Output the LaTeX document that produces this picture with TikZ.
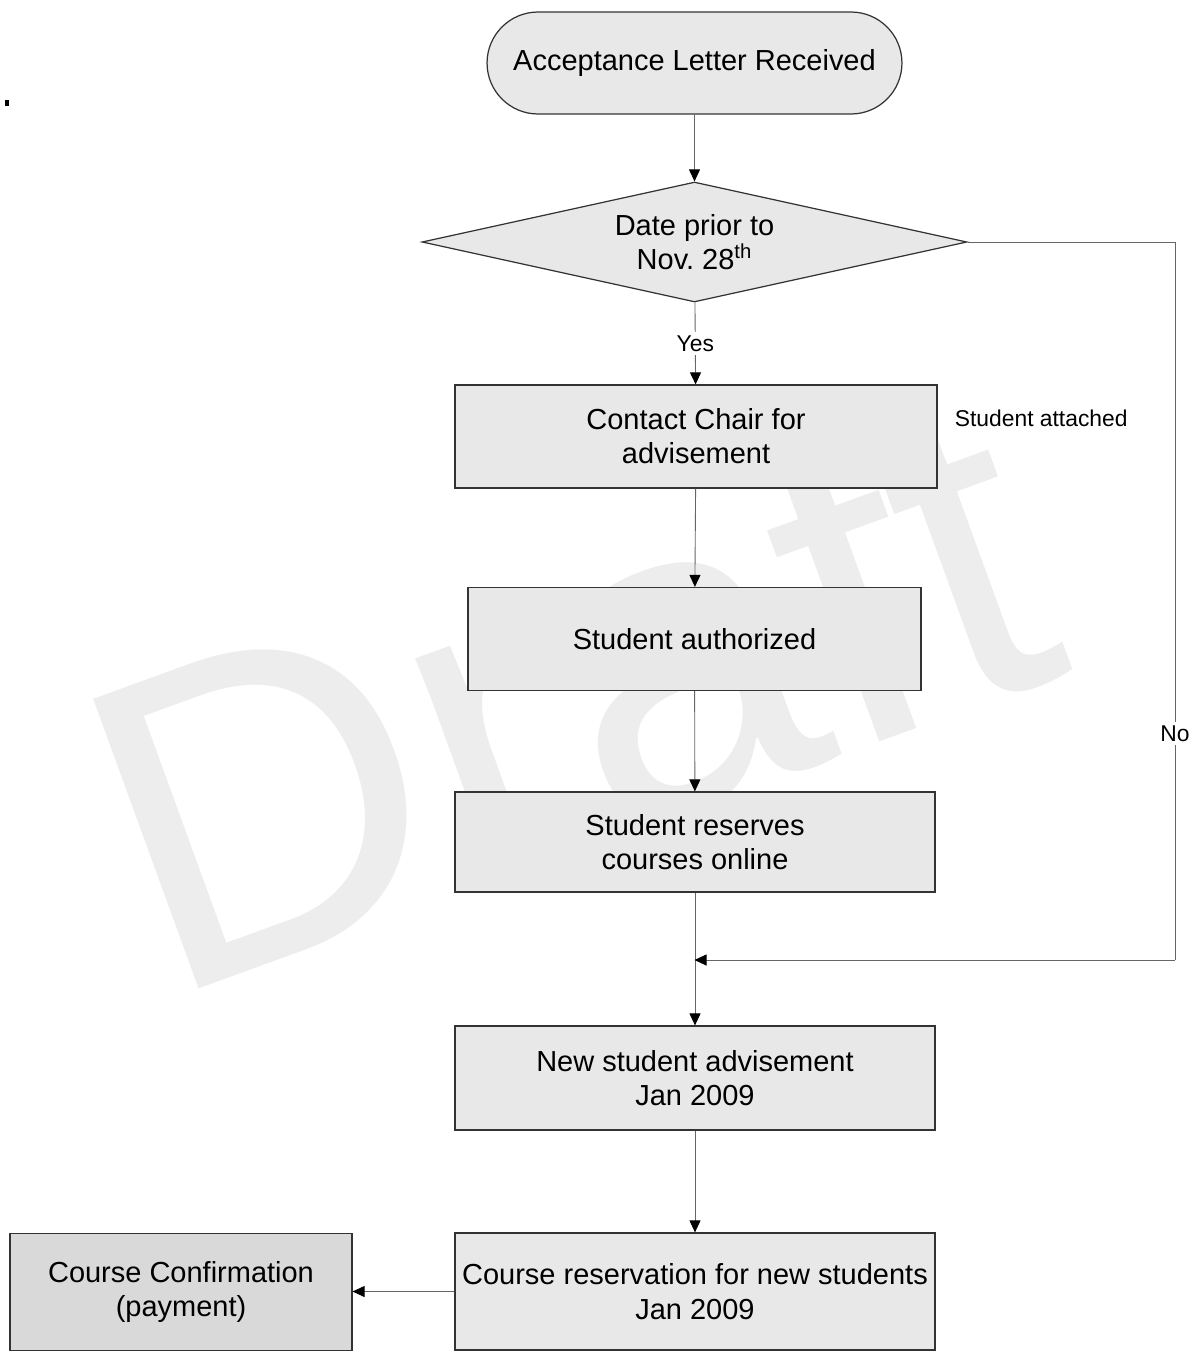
\documentclass[tikz,border=0pt]{standalone}
\usepackage{fontspec}
\setmainfont{Liberation Sans}
\usetikzlibrary{shapes.geometric, shapes.misc, arrows.meta}

\tikzset{
  boxtext/.style={font=\fontsize{16.5}{19.5}\selectfont, align=center, inner sep=0pt},
  stepbox/.style={boxtext, rectangle, draw=black!80, line width=0.7pt, fill=gray!18,
    minimum width=9.6cm, minimum height=2.06cm},
  startbox/.style={boxtext, rounded rectangle, draw=black!80, line width=0.7pt, fill=gray!18,
    minimum width=8.3cm, minimum height=2.04cm},
  decisionbox/.style={boxtext, diamond, aspect=4.5, draw=black!80, line width=0.7pt, fill=gray!18,
    minimum width=10.9cm, minimum height=2.4cm},
  flowline/.style={draw=black!60, line width=0.5pt},
  flowarrow/.style={flowline, -{Triangle[length=0.24cm, width=0.22cm, color=black]}},
  smalllabel/.style={font=\fontsize{13}{15}\selectfont, inner sep=2pt}
}

\begin{document}
\begin{tikzpicture}[x=0.02cm, y=-0.02cm]
\useasboundingbox (0,0) rectangle (1199,1352);

% watermark, behind everything
\node[rotate=20, anchor=base west, inner sep=0pt, font=\fontsize{255}{255}\selectfont,
  text=gray!14] (draft) at (164,1002) {Draft};

% steps
\node[startbox] (accept) at (694.5,63) {Acceptance Letter Received};
\node[decisionbox] (date) at (694.5,242) {Date prior to\\Nov.\ 28\textsuperscript{th}};
\node[stepbox, minimum width=9.64cm] (chair) at (696,436.5) {Contact Chair for\\advisement};
\node[stepbox, minimum width=9.06cm] (authorized) at (694.5,639) {Student authorized};
\node[stepbox, minimum height=2.0cm] (reserves) at (695,842) {Student reserves\\courses online};
\node[stepbox, minimum height=2.08cm] (newadv) at (695,1078) {New student advisement\\Jan 2009};
\node[stepbox, minimum height=2.34cm] (reservation) at (695,1291.5) {Course reservation for new students\\Jan 2009};
\node[stepbox, minimum width=6.84cm, minimum height=2.34cm, fill=gray!30] (confirm) at (181,1292) {Course Confirmation\\(payment)};

\node[smalllabel, anchor=west] (attached) at (951,418) {Student attached};

% the "No" branch
\coordinate (noturn1) at (1175,242);
\coordinate (noturn2) at (1175,960);
\coordinate (merge) at (694.5,960);

\draw[flowarrow] (accept) -- (date);
\draw[flowarrow] (date) -- node[fill=white, smalllabel] (yes) {Yes} (chair);
\draw[flowarrow] (chair) -- (authorized);
\draw[flowarrow] (authorized) -- (reserves);
\draw[flowarrow] (reserves) -- (newadv);
\draw[flowline] (date.east) -- (noturn1) -- node[pos=0.685, fill=white, smalllabel] (no) {No} (noturn2);
\draw[flowarrow] (noturn2) -- (merge);
\draw[flowarrow] (newadv) -- (reservation);
\draw[flowarrow] (reservation.west) -- (reservation.west -| confirm.east);

\fill (5,100) rectangle (9,106);
\end{tikzpicture}
\end{document}
